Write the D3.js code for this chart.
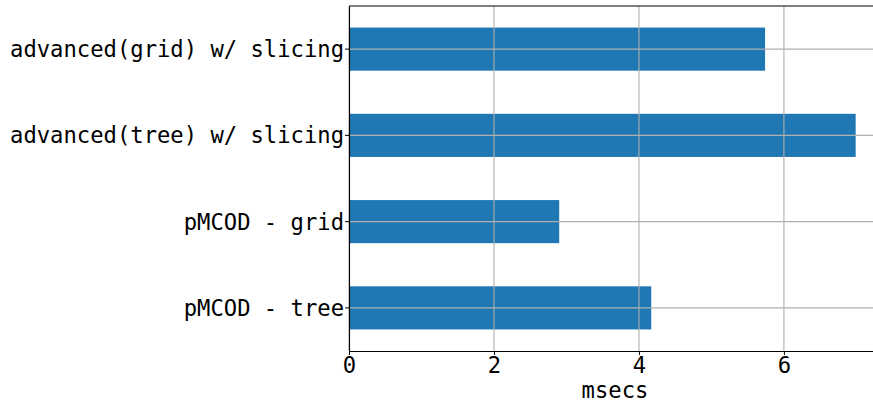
<!DOCTYPE html>
<html>
<head>
<meta charset="utf-8">
<script src="https://cdn.jsdelivr.net/npm/d3@7"></script>
<style>
  html, body { margin: 0; padding: 0; background: #fff; }
  svg { display: block; }
  text { font-family: "DejaVu Sans Mono", monospace; fill: #000; }
</style>
</head>
<body>
<svg id="chart" width="873" height="405"></svg>
<script>
// Runtime per method (milliseconds), listed top to bottom
const methods = [
  "advanced(grid) w/ slicing",
  "advanced(tree) w/ slicing",
  "pMCOD - grid",
  "pMCOD - tree"
];
const msecs = [5.74, 6.99, 2.90, 4.17];
const xTicks = [0, 2, 4, 6];
const xLabel = "msecs";

const svg = d3.select("#chart");
const margin = { left: 349, top: 6, bottom: 351 };
const xMax = d3.max(msecs) * 1.05;

const x = d3.scaleLinear().domain([0, xMax]).range([margin.left, 881]);
const y = d3.scaleBand().domain(methods).range([margin.top, margin.bottom]).paddingInner(0.5).paddingOuter(0.25);

const fontSize = 22.2;
const gridColor = "#b0b0b0";

// bars
svg.append("g").selectAll("rect")
  .data(methods)
  .join("rect")
  .attr("x", x(0))
  .attr("y", d => y(d))
  .attr("width", (d, i) => x(msecs[i]) - x(0))
  .attr("height", y.bandwidth())
  .attr("fill", "#1f77b4");

// grid lines, drawn above the bars
const grid = svg.append("g");
grid.selectAll("line.vx")
  .data(xTicks)
  .join("line")
  .attr("x1", d => x(d)).attr("x2", d => x(d))
  .attr("y1", margin.top).attr("y2", margin.bottom)
  .attr("stroke", gridColor).attr("stroke-width", 1.1);
grid.selectAll("line.hy")
  .data(methods)
  .join("line")
  .attr("x1", margin.left).attr("x2", 881)
  .attr("y1", d => y(d) + y.bandwidth() / 2).attr("y2", d => y(d) + y.bandwidth() / 2)
  .attr("stroke", gridColor).attr("stroke-width", 1.1);

// x axis
const xAxis = svg.append("g")
  .attr("transform", `translate(0,${margin.bottom})`)
  .call(d3.axisBottom(x).tickValues(xTicks).tickFormat(d3.format("d"))
    .tickSizeInner(4).tickSizeOuter(0).tickPadding(2));
xAxis.select(".domain").attr("stroke", "#000").attr("stroke-width", 1.1);
xAxis.selectAll(".tick line").attr("stroke", "#000").attr("stroke-width", 1);
xAxis.selectAll(".tick text").style("font-size", fontSize + "px")
  .style("font-family", "'DejaVu Sans Mono', monospace").attr("fill", "#000");

// y axis
const yAxis = svg.append("g")
  .attr("transform", `translate(${margin.left},0)`)
  .call(d3.axisLeft(y).tickSizeInner(4).tickSizeOuter(0).tickPadding(1));
yAxis.select(".domain").attr("stroke", "#000").attr("stroke-width", 1.1);
yAxis.selectAll(".tick line").attr("stroke", "#000").attr("stroke-width", 1);
yAxis.selectAll(".tick text").style("font-size", fontSize + "px")
  .attr("dy", "0.36em")
  .style("font-family", "'DejaVu Sans Mono', monospace").attr("fill", "#000");

// top spine
svg.append("line")
  .attr("x1", margin.left).attr("x2", 881)
  .attr("y1", margin.top).attr("y2", margin.top)
  .attr("stroke", "#000").attr("stroke-width", 1.1);

// axis title
svg.append("text")
  .attr("x", (x(0) + 881) / 2)
  .attr("y", 398)
  .attr("text-anchor", "middle")
  .style("font-size", fontSize + "px")
  .text(xLabel);
</script>
</body>
</html>
